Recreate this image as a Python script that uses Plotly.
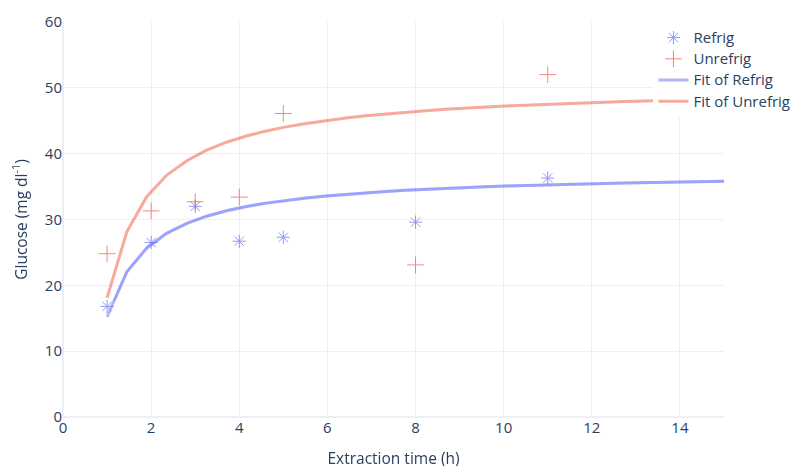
import plotly.graph_objects as go

# Observed data
time_h = [1, 2, 3, 4, 5, 8, 11]
refrig = [16.8, 26.5, 32.0, 26.7, 27.3, 29.6, 36.3]
unrefrig = [24.8, 31.3, 32.7, 33.4, 46.1, 23.1, 52.0]

# Fitted curves
fit_x = [1.00, 1.45, 1.90, 2.35, 2.81, 3.26, 3.71, 4.16, 4.61, 5.06, 5.52, 5.97,
         6.42, 6.87, 7.32, 7.77, 8.23, 8.68, 9.13, 9.58, 10.03, 10.48, 10.94,
         11.39, 11.84, 12.29, 12.74, 13.19, 13.65, 14.10, 14.55, 15.00]
fit_refrig = [15.20, 22.07, 25.67, 27.90, 29.41, 30.50, 31.32, 31.97, 32.49, 32.91,
              33.27, 33.57, 33.83, 34.06, 34.26, 34.43, 34.59, 34.73, 34.85, 34.97,
              35.07, 35.17, 35.25, 35.33, 35.41, 35.47, 35.54, 35.60, 35.65, 35.70,
              35.75, 35.80]
fit_unrefrig = [18.10, 28.17, 33.46, 36.72, 38.93, 40.53, 41.74, 42.68, 43.44, 44.07,
                44.59, 45.04, 45.42, 45.75, 46.04, 46.30, 46.53, 46.73, 46.92, 47.08,
                47.23, 47.37, 47.50, 47.62, 47.73, 47.83, 47.92, 48.01, 48.09, 48.16,
                48.24, 48.30]

BLUE = "#636efa"
RED = "#ef553b"


def lg(name):
    return "<span style='font-size:15px'>" + name + "</span>"


fig = go.Figure()
fig.add_trace(go.Scatter(x=time_h, y=refrig, mode="markers", name=lg("Refrig"),
                         marker=dict(symbol="asterisk-open", size=11, color=BLUE,
                                     line=dict(width=1, color=BLUE)),
                         opacity=0.7))
fig.add_trace(go.Scatter(x=time_h, y=unrefrig, mode="markers", name=lg("Unrefrig"),
                         marker=dict(symbol="cross-thin-open", size=12, color=RED,
                                     line=dict(width=1, color=RED)),
                         opacity=0.7))
fig.add_trace(go.Scatter(x=fit_x, y=fit_refrig, mode="lines", name=lg("Fit of Refrig"),
                         line=dict(color=BLUE, width=3), opacity=0.5))
fig.add_trace(go.Scatter(x=fit_x, y=fit_unrefrig, mode="lines", name=lg("Fit of Unrefrig"),
                         line=dict(color=RED, width=3), opacity=0.5))

fig.update_layout(
    template="plotly_white",
    width=800, height=466,
    margin=dict(l=55, r=84, t=14, b=57),
    font=dict(family="Open Sans", size=15, color="#2a3f5f"),
    legend=dict(x=0.8933, y=1, xanchor="left", yanchor="top",
                bgcolor="rgba(255,255,255,1)", font=dict(size=14)),
    xaxis=dict(title=dict(text="Extraction time (h)", font=dict(size=15.5), standoff=17),
               range=[0, 15], dtick=2, tickfont=dict(size=15), automargin=False),
    yaxis=dict(title=dict(text="Glucose (mg dl<sup>-1</sup>)", font=dict(size=15.5), standoff=24),
               range=[0, 60], dtick=10, tickfont=dict(size=15), automargin=False),
)

fig.write_html("out.html")
